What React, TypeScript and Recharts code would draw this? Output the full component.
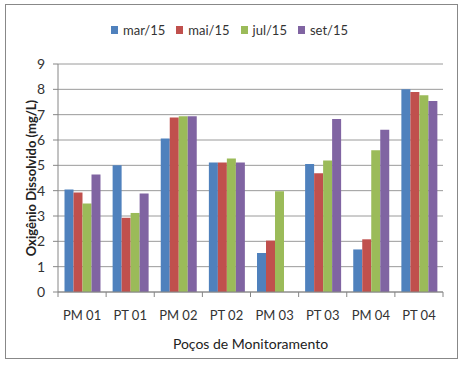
import React from 'react';
import { BarChart, Bar, XAxis, YAxis, CartesianGrid, Legend } from 'recharts';

const wells = ['PM 01', 'PT 01', 'PM 02', 'PT 02', 'PM 03', 'PT 03', 'PM 04', 'PT 04'];
const mar15 = [4.05, 5.0, 6.06, 5.11, 1.54, 5.05, 1.68, 8.0];
const mai15 = [3.93, 2.93, 6.89, 5.11, 2.03, 4.69, 2.08, 7.89];
const jul15 = [3.49, 3.12, 6.94, 5.27, 3.98, 5.19, 5.6, 7.77];
const set15 = [4.64, 3.89, 6.94, 5.11, 0, 6.83, 6.4, 7.54];
const yTicks = [0, 1, 2, 3, 4, 5, 6, 7, 8, 9];

const seriesNames = ['mar/15', 'mai/15', 'jul/15', 'set/15'];
const seriesColors = ['#4F81BD', '#C0504D', '#9BBB59', '#8064A2'];

const data = wells.map((name, i) => ({
  name,
  mar: mar15[i],
  mai: mai15[i],
  jul: jul15[i],
  set: set15[i],
}));

const FONT = 'Lato, "Liberation Sans", sans-serif';
const AXIS = '#868686';

// category ticks sit on the boundaries between wells, labels in the middle
const WellTick = (props: any) => {
  const { x, y, payload, index } = props;
  const half = payload?.offset || 24;
  return (
    <g>
      <line x1={x - half} x2={x - half} y1={y} y2={y + 5} stroke={AXIS} />
      {index === wells.length - 1 && (
        <line x1={x + half} x2={x + half} y1={y} y2={y + 5} stroke={AXIS} />
      )}
      <text x={x} y={y + 28} textAnchor="middle" fontSize={13} fill="#333" fontFamily={FONT}>
        {payload.value}
      </text>
    </g>
  );
};

// vertical y-axis title, centred on the plot height
const YTitle = (props: any) => {
  const vb = props.viewBox || { y: 64, height: 228 };
  const cy = vb.y + vb.height / 2;
  return (
    <text
      transform={`translate(36, ${cy}) rotate(-90)`}
      textAnchor="middle"
      fontSize={13}
      fontWeight="bold"
      fill="#222"
      fontFamily={FONT}
    >
      Oxigênio Dissolvido  (mg/L)
    </text>
  );
};

// keep the series order as in the chart (mar, mai, jul, set)
const MonthLegend = () => (
  <div style={{ display: 'flex', justifyContent: 'center', fontFamily: FONT, fontSize: 13, color: '#333', height: 18 }}>
    {seriesNames.map((n, i) => (
      <div key={n} style={{ display: 'flex', alignItems: 'center', marginRight: 11 }}>
        <span style={{ display: 'inline-block', width: 7, height: 8, background: seriesColors[i], marginRight: 5 }} />
        <span>{n}</span>
      </div>
    ))}
  </div>
);

const App: React.FC = () => {
  return (
    <div style={{ position: 'absolute', left: 0, top: 0, width: 465, height: 378, background: '#fff' }}>
      <div
        style={{
          position: 'absolute',
          left: 5,
          top: 4,
          width: 451,
          height: 353,
          border: '1px solid #888',
        }}
      />
      <BarChart
        width={465}
        height={378}
        data={data}
        margin={{ top: 46, right: 22, bottom: 56, left: 0 }}
        barCategoryGap="13.5%"
        barGap={0}
        style={{ fontFamily: FONT }}
      >
        <CartesianGrid vertical={false} stroke="#9a9a9a" />
        <XAxis
          dataKey="name"
          stroke={AXIS}
          tickLine={false}
          tickSize={0}
          tickMargin={0}
          interval={0}
          tick={<WellTick />}
          label={{
            value: 'Poços de Monitoramento',
            position: 'insideBottom',
            offset: -27,
            fontSize: 14,
            fill: '#222',
            fontFamily: FONT,
          }}
        />
        <YAxis
          width={58}
          domain={[0, 9]}
          ticks={yTicks}
          interval={0}
          stroke={AXIS}
          tickSize={5}
          tickMargin={8}
          tick={{ fontSize: 14, fill: '#333', fontFamily: FONT }}
          label={<YTitle />}
        />
        <Legend
          verticalAlign="top"
          align="center"
          content={<MonthLegend />}
          wrapperStyle={{ top: 21, left: 12, width: 446 }}
        />
        <Bar dataKey="mar" name="mar/15" fill="#4F81BD" isAnimationActive={false} />
        <Bar dataKey="mai" name="mai/15" fill="#C0504D" isAnimationActive={false} />
        <Bar dataKey="jul" name="jul/15" fill="#9BBB59" isAnimationActive={false} />
        <Bar dataKey="set" name="set/15" fill="#8064A2" isAnimationActive={false} />
      </BarChart>
    </div>
  );
};

export default App;
